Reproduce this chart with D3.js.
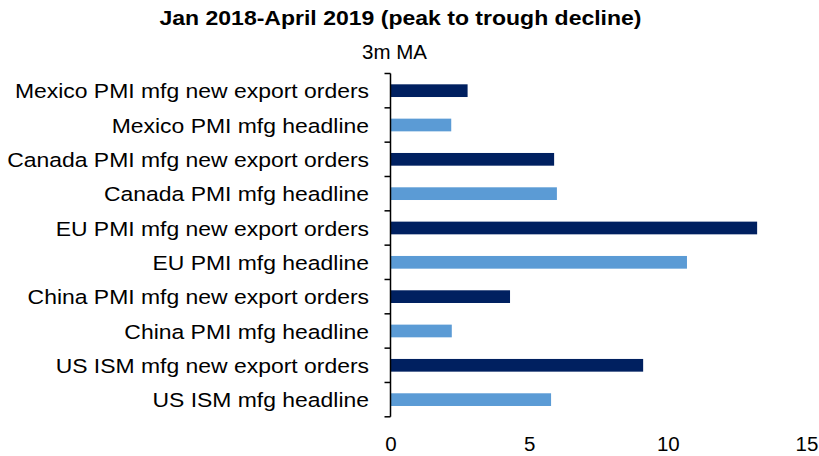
<!DOCTYPE html>
<html>
<head>
<meta charset="utf-8">
<script src="https://cdn.jsdelivr.net/npm/d3@7"></script>
<style>
  html, body { margin: 0; padding: 0; background: #fff; }
  svg { display: block; }
  text { font-family: "Liberation Sans", Arial, Helvetica, sans-serif; fill: #000; }
</style>
</head>
<body>
<svg id="chart" width="819" height="456"></svg>
<script>
// ---- data ----
const categories = [
  "Mexico PMI mfg new export orders",
  "Mexico PMI mfg headline",
  "Canada PMI mfg new export orders",
  "Canada PMI mfg headline",
  "EU PMI mfg new export orders",
  "EU PMI mfg headline",
  "China PMI mfg new export orders",
  "China PMI mfg headline",
  "US ISM mfg new export orders",
  "US ISM mfg headline"
];
const values = [2.78, 2.19, 5.90, 6.00, 13.22, 10.69, 4.31, 2.21, 9.11, 5.79];
const seriesType = ["export", "headline", "export", "headline", "export", "headline", "export", "headline", "export", "headline"];
const xTicks = [0, 5, 10, 15];
const title = "Jan 2018-April 2019 (peak to trough decline)";
const subtitle = "3m MA";

// ---- layout ----
const colors = { export: "#002060", headline: "#5B9BD5" };
const svg = d3.select("#chart");
const plotLeft = 390.5, plotRight = 806.5, plotTop = 73.5, plotBottom = 416.8;

const x = d3.scaleLinear().domain([0, 15]).range([plotLeft, plotRight]);
const y = d3.scaleBand().domain(categories).range([plotTop, plotBottom]).paddingInner(0.63).paddingOuter(0.315);

// title
const t = svg.append("text")
  .attr("x", 400.5).attr("y", 25)
  .attr("text-anchor", "middle")
  .style("font-size", "19.5px").style("font-weight", "bold")
  .text(title);
t.attr("textLength", t.node().getComputedTextLength() * 1.18).attr("lengthAdjust", "spacingAndGlyphs");

svg.append("text")
  .attr("x", 394.5).attr("y", 59.3)
  .attr("text-anchor", "middle")
  .style("font-size", "20.5px")
  .text(subtitle);

// bars
svg.append("g").selectAll("rect")
  .data(categories)
  .join("rect")
  .attr("x", x(0))
  .attr("y", d => y(d))
  .attr("width", (d, i) => x(values[i]) - x(0))
  .attr("height", y.bandwidth())
  .attr("fill", (d, i) => colors[seriesType[i]]);

// y axis line + ticks at band boundaries
const step = y.step();
const boundaries = d3.range(categories.length + 1).map(i => plotTop + i * step);
const axisG = svg.append("g");
axisG.append("line")
  .attr("x1", plotLeft).attr("x2", plotLeft)
  .attr("y1", plotTop).attr("y2", plotBottom)
  .attr("stroke", "#000").attr("stroke-width", 1.5);
axisG.selectAll("line.tick")
  .data(boundaries)
  .join("line")
  .attr("class", "tick")
  .attr("x1", plotLeft - 6).attr("x2", plotLeft)
  .attr("y1", d => d).attr("y2", d => d)
  .attr("stroke", "#000").attr("stroke-width", 1.5);

// category labels
svg.append("g").selectAll("text")
  .data(categories)
  .join("text")
  .attr("x", 369)
  .attr("y", d => y(d) + y.bandwidth() / 2 + 7.6)
  .attr("text-anchor", "end")
  .style("font-size", "20.5px")
  .text(d => d)
  .each(function() {
    const w = this.getComputedTextLength();
    d3.select(this).attr("textLength", w * 1.118).attr("lengthAdjust", "spacingAndGlyphs");
  });

// x axis tick labels (no axis line)
const xAxis = d3.axisBottom(x).tickValues(xTicks).tickSize(0).tickPadding(0).tickFormat(d3.format("d"));
const xg = svg.append("g").attr("transform", `translate(0, ${436})`).call(xAxis);
xg.select(".domain").remove();
xg.selectAll("text")
  .style("font-family", "'Liberation Sans', Arial, sans-serif")
  .style("font-size", "20.5px")
  .attr("fill", "#000")
  .attr("dy", "0.71em");
</script>
</body>
</html>
